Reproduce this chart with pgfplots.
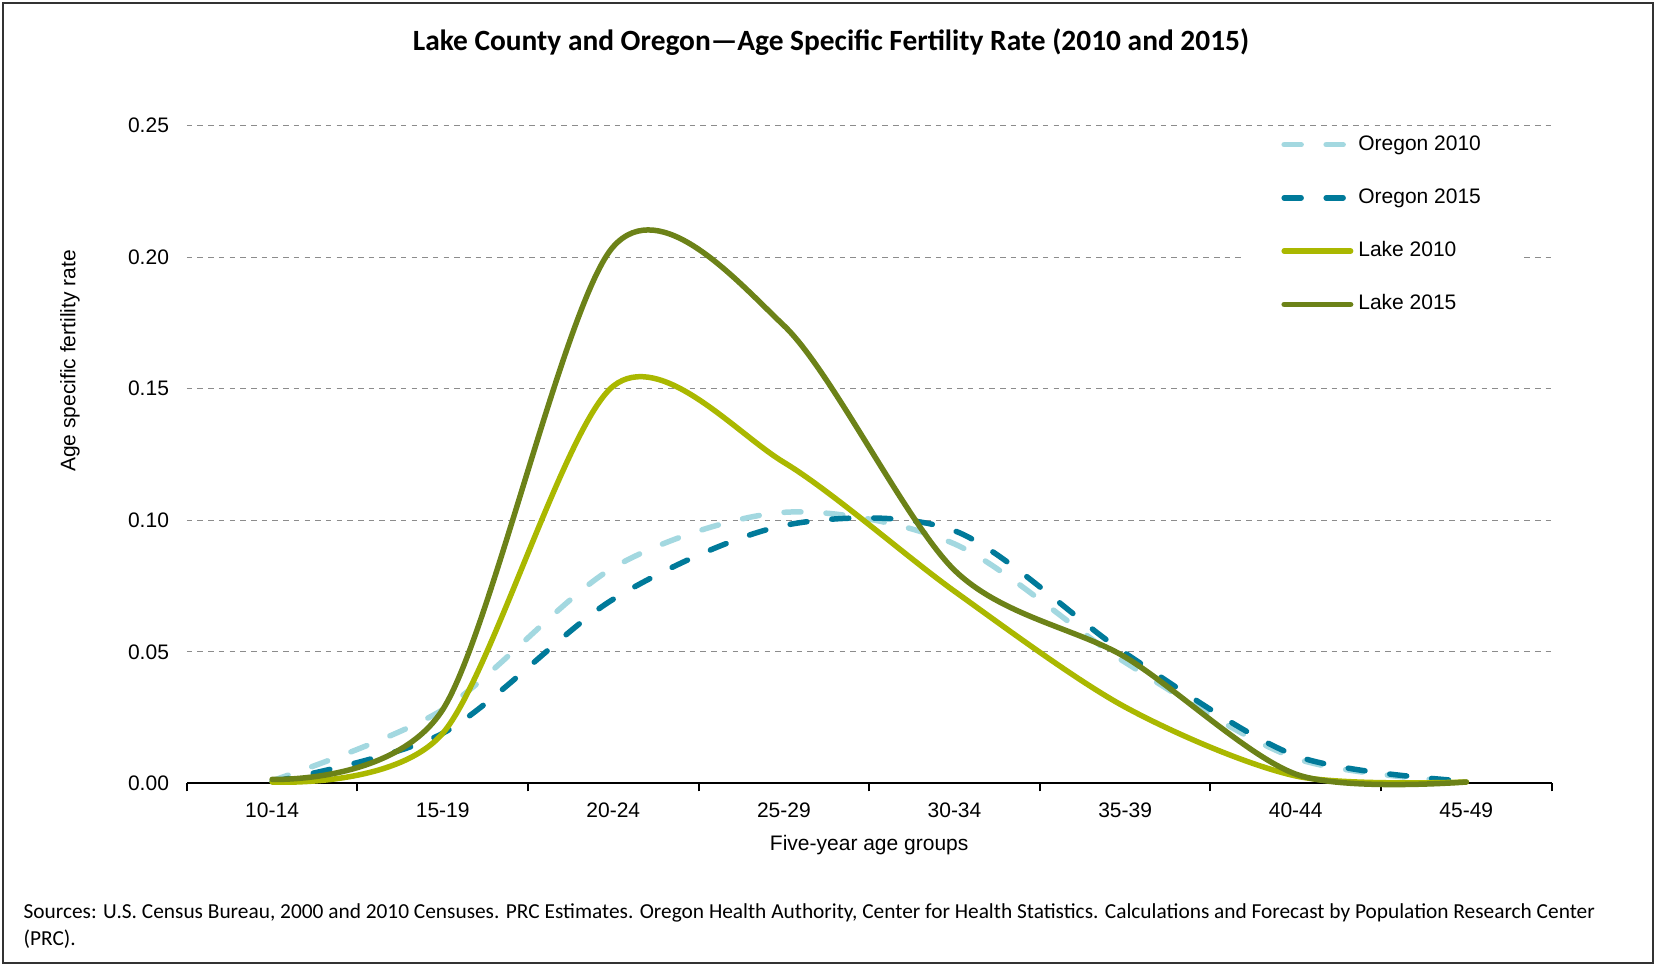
\documentclass[border=0pt]{standalone}
\usepackage{fontspec}
\setmainfont{Liberation Sans}
\newfontfamily\calibri{Carlito}
\usepackage{pgfplots}
\pgfplotsset{compat=1.18}
\definecolor{or10}{RGB}{163,216,224}
\definecolor{or15}{RGB}{0,122,154}
\definecolor{lk10}{RGB}{170,184,0}
\definecolor{lk15}{RGB}{108,130,24}
\definecolor{gridgray}{RGB}{140,140,140}
\begin{document}
\begin{tikzpicture}
\useasboundingbox (0,0) rectangle (827.5pt,-483pt);
\draw[line width=1pt, black!80] (1.5pt,-1.5pt) rectangle (826.5pt,-481.5pt);
\node[font=\calibri\bfseries\fontsize{14.7}{17}\selectfont, anchor=base, inner sep=0pt] at (415.5pt,-25pt) {Lake County and Oregon—Age Specific Fertility Rate (2010 and 2015)};
\node[font=\calibri\fontsize{10.68}{12}\selectfont, anchor=base west, inner sep=0pt] at (11.6pt,-459pt) {Sources: U.S. Census Bureau, 2000 and 2010 Censuses. PRC Estimates. Oregon Health Authority, Center for Health Statistics. Calculations and Forecast by Population Research Center};
\node[font=\calibri\fontsize{10.68}{12}\selectfont, anchor=base west, inner sep=0pt] at (11.6pt,-472.5pt) {(PRC).};
\begin{axis}[
  at={(93.4pt,-391.65pt)}, anchor=south west,
  scale only axis, width=682.4pt, height=328.85pt,
  xmin=-0.5, xmax=7.5, ymin=0, ymax=0.25,
  clip=false,
  axis x line*=bottom, axis y line*=left,
  x axis line style={-, black, line width=1pt},
  y axis line style={draw=none},
  xtick={0,1,2,3,4,5,6,7},
  xticklabels={10-14,15-19,20-24,25-29,30-34,35-39,40-44,45-49},
  minor xtick={-0.5,0.5,1.5,2.5,3.5,4.5,5.5,6.5,7.5},
  ytick={0,0.05,0.1,0.15,0.2,0.25},
  major tick length=0pt, minor tick length=4pt, tick align=outside,
  minor x tick style={black, line width=1pt},
  ymajorgrids,
  major grid style={gridgray, line width=0.65pt, dash pattern=on 2.75pt off 2.6pt},
  /pgf/number format/assume math mode=true,
  tick label style={font=\fontsize{10.5}{12}\selectfont, black},
  yticklabel style={/pgf/number format/fixed, /pgf/number format/fixed zerofill, /pgf/number format/precision=2, xshift=-5.4pt},
  xticklabel style={yshift=-6pt},
  xlabel={Five-year age groups},
  xlabel style={at={(rel axis cs:0.5,0)}, anchor=north, yshift=-22.5pt, font=\fontsize{10.5}{12}\selectfont},
  ylabel={Age specific fertility rate},
  ylabel style={at={(rel axis cs:-0.0856,0.642)}, anchor=center, font=\fontsize{10.5}{12}\selectfont},
  legend style={at={(rel axis cs:0.7739,0.9997)}, anchor=north west, draw=none, fill=white, inner xsep=19pt, inner ysep=4pt, font=\fontsize{10.5}{12}\selectfont, row sep=16.1pt, nodes={inner sep=0pt, text height=8pt, text depth=2.5pt}, /tikz/every odd column/.append style={column sep=2.5pt}},
  legend cell align=left,
  legend image code/.code={\draw[#1] (1.375pt,0pt) -- (34.6pt,0pt);},
  legend entries={Oregon 2010, Oregon 2015, Lake 2010, Lake 2015},
]
\addplot[or10, line width=2.75pt, line cap=round, dash pattern=on 8.5pt off 12.5pt, smooth, tension=0.5] coordinates {(0,0.001) (1,0.028) (2,0.082) (3,0.103) (4,0.091) (5,0.046) (6,0.0095) (7,0.0005)};
\addplot[or15, line width=2.75pt, line cap=round, dash pattern=on 8.5pt off 12.5pt, smooth, tension=0.5] coordinates {(0,0.0006) (1,0.019) (2,0.070) (3,0.098) (4,0.096) (5,0.0495) (6,0.0105) (7,0.0008)};
\addplot[lk10, line width=2.75pt, line cap=round, smooth, tension=0.5] coordinates {(0,0.0005) (1,0.019) (2,0.151) (3,0.122) (4,0.073) (5,0.029) (6,0.0028) (7,0.0005)};
\addplot[lk15, line width=2.75pt, line cap=round, smooth, tension=0.5] coordinates {(0,0.0015) (1,0.028) (2,0.204) (3,0.174) (4,0.081) (5,0.048) (6,0.0035) (7,0.0005)};
\end{axis}
\end{tikzpicture}
\end{document}
